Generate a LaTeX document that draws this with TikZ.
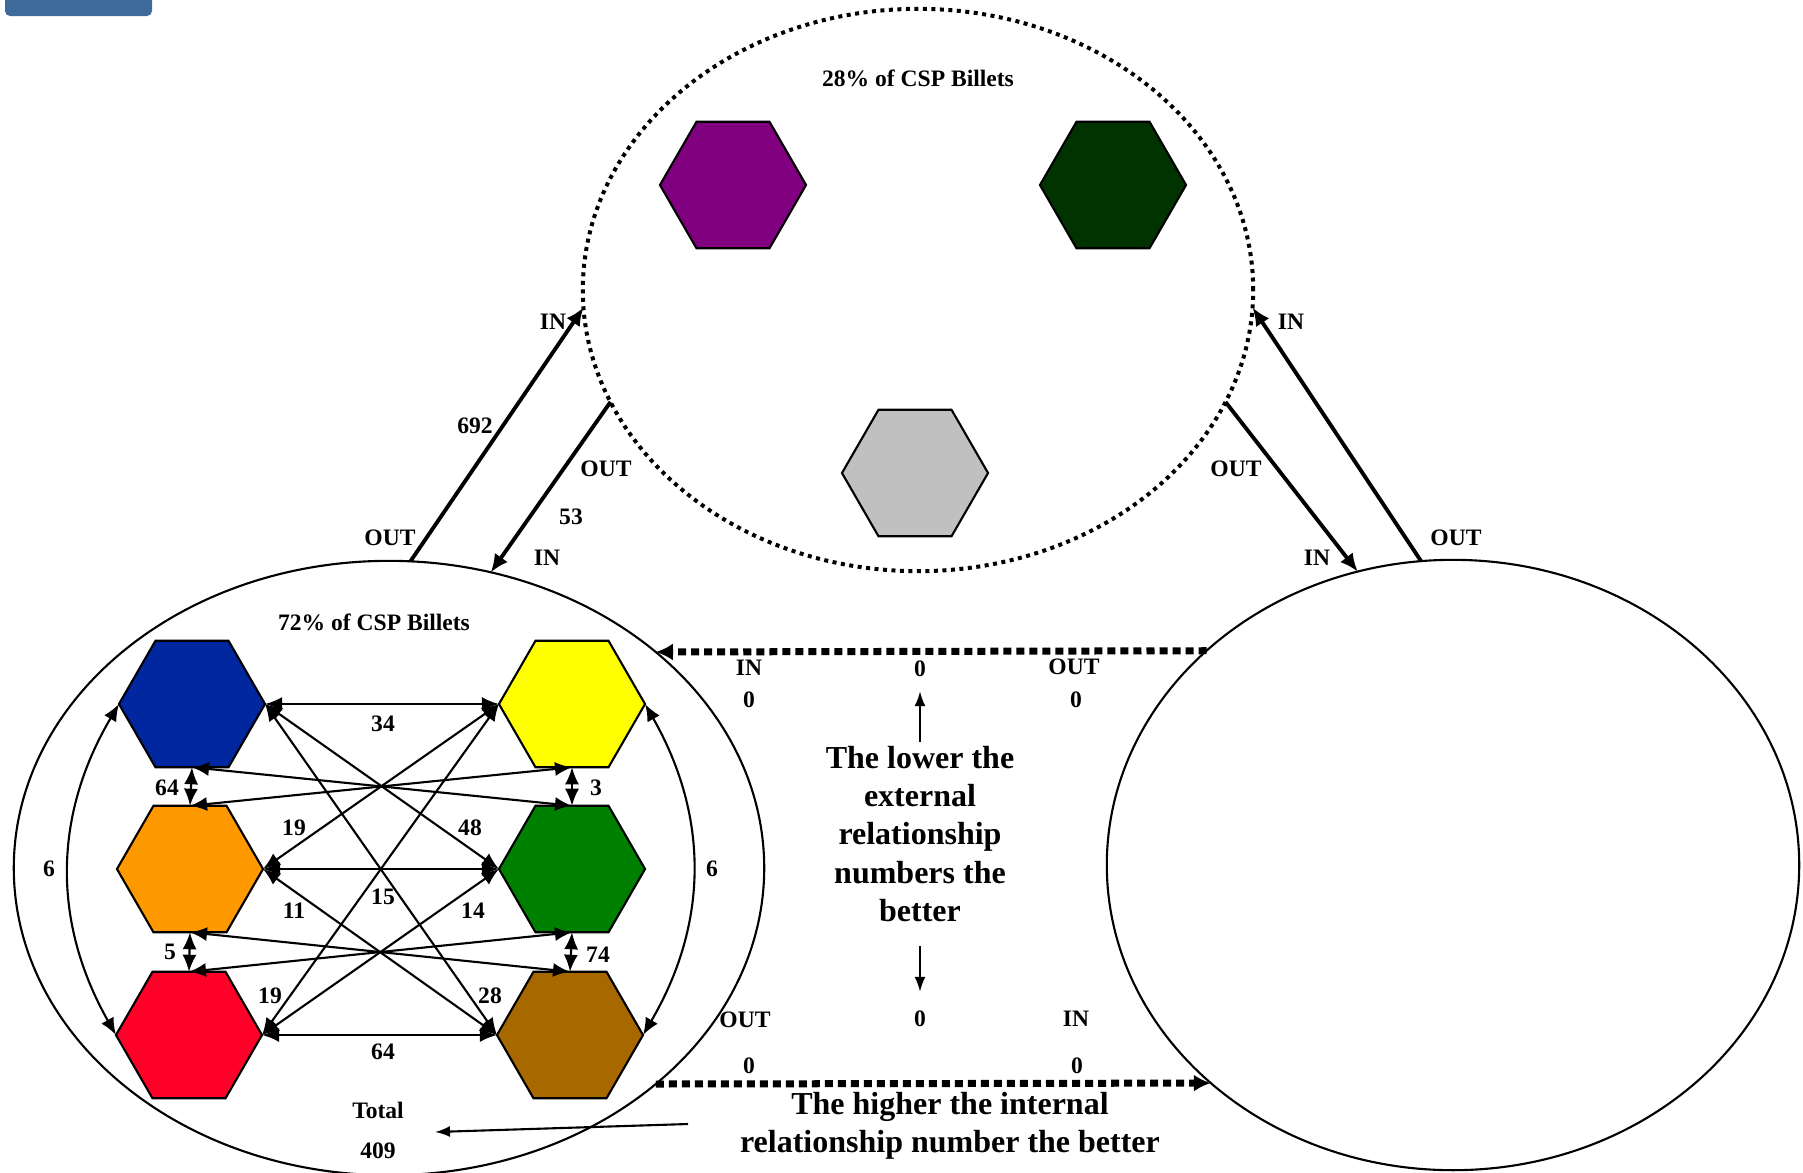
\documentclass[tikz,border=0pt]{standalone}
\usepackage{fontspec}
\setmainfont{Liberation Serif}
\usepackage{xcolor}
\usetikzlibrary{shapes.geometric,arrows.meta}

\definecolor{tabblue}{RGB}{62,106,155}
\definecolor{hexblue}{RGB}{0,38,160}
\definecolor{hexyellow}{RGB}{255,255,0}
\definecolor{hexorange}{RGB}{255,153,0}
\definecolor{hexgreen}{RGB}{0,128,0}
\definecolor{hexred}{RGB}{255,0,40}
\definecolor{hexbrown}{RGB}{168,104,0}
\definecolor{hexpurple}{RGB}{128,0,128}
\definecolor{hexdark}{RGB}{0,51,0}
\definecolor{hexgray}{RGB}{192,192,192}

\tikzset{
    hexa/.style={regular polygon, regular polygon sides=6,
        minimum size=1.46cm, inner sep=0pt, outer sep=0pt, draw, line width=0.6pt},
    group/.style={ellipse, draw, inner sep=0pt, outer sep=0pt, line width=0.6pt},
    dotgroup/.style={group, line width=0.04cm, dash pattern=on 0.04cm off 0.045cm},
    lbl/.style={font=\fontsize{6.7}{8}\selectfont\bfseries, inner sep=1pt},
    big/.style={font=\fontsize{9.1}{10.9}\selectfont\bfseries, align=center, inner sep=1pt},
    rel/.style={{Latex[length=0.17cm,width=0.14cm]}-{Latex[length=0.17cm,width=0.14cm]}, line width=0.6pt},
    ext/.style={-{Latex[length=0.18cm,width=0.16cm]}, line width=1.1pt},
    flow/.style={-{Latex[length=0.17cm,width=0.17cm]}, line width=0.07cm, dash pattern=on 0.08cm off 0.05cm},
    hint/.style={-{Latex[length=0.15cm,width=0.11cm]}, line width=0.6pt},
}

\begin{document}
\begin{tikzpicture}[x=0.01cm, y=-0.01cm]
    \clip (0,0) rectangle (1803,1172);
    \fill[white] (0,0) rectangle (1803,1172);

    % Slide tab
    \fill[tabblue, rounded corners=0.05cm] (5,-20) rectangle (152,16);

    % Groups
    \node[dotgroup, minimum width=6.7cm, minimum height=5.62cm] (top) at (918,290) {};
    \node[group, minimum width=7.5cm, minimum height=6.14cm] (left) at (389,868) {};
    \node[group, minimum width=6.92cm, minimum height=6.1cm] (right) at (1453,865) {};

    \node[lbl] (toptitle) at (918,78) {28\% of CSP Billets};
    \node[lbl] (lefttitle) at (374,622) {72\% of CSP Billets};

    % Top hexagons
    \node[hexa, fill=hexpurple] (purple) at (733,185) {};
    \node[hexa, fill=hexdark] (darkgreen) at (1113,185) {};
    \node[hexa, fill=hexgray] (gray) at (915,473) {};

    % Left hexagons
    \node[hexa, fill=hexblue] (blue) at (192,704) {};
    \node[hexa, fill=hexyellow] (yellow) at (572,704) {};
    \node[hexa, fill=hexorange] (orange) at (190,869) {};
    \node[hexa, fill=hexgreen] (green) at (572,869) {};
    \node[hexa, fill=hexred] (red) at (189,1035) {};
    \node[hexa, fill=hexbrown] (brown) at (570,1035) {};

    % Internal relationships
    \draw[rel] (blue.east) -- (yellow.west);
    \draw[rel] (orange.east) -- (green.west);
    \draw[rel] (red.east) -- (brown.west);
    \draw[rel] (blue.south) -- (orange.north);
    \draw[rel] (orange.south) -- (red.north);
    \draw[rel] (yellow.south) -- (green.north);
    \draw[rel] (green.south) -- (brown.north);
    \draw[rel] (blue.south) -- (green.north);
    \draw[rel] (yellow.south) -- (orange.north);
    \draw[rel] (orange.south) -- (brown.north);
    \draw[rel] (green.south) -- (red.north);
    \draw[rel] (blue.east) -- (green.west);
    \draw[rel] (blue.east) -- (brown.west);
    \draw[rel] (yellow.west) -- (orange.east);
    \draw[rel] (yellow.west) -- (red.east);
    \draw[rel] (orange.east) -- (brown.west);
    \draw[rel] (green.west) -- (red.east);
    \draw[rel] (blue.west) to[bend right=30] (red.west);
    \draw[rel] (yellow.east) to[bend left=30] (brown.east);

    \node[lbl] (n34) at (383,724) {34};
    \node[lbl] (n64a) at (167,788) {64};
    \node[lbl] (n3) at (596,788) {3};
    \node[lbl] (n19a) at (294,828) {19};
    \node[lbl] (n48) at (470,828) {48};
    \node[lbl] (n6a) at (49,869) {6};
    \node[lbl] (n6b) at (712,869) {6};
    \node[lbl] (n15) at (383,897) {15};
    \node[lbl] (n11) at (294,911) {11};
    \node[lbl] (n14) at (473,911) {14};
    \node[lbl] (n5) at (170,952) {5};
    \node[lbl] (n74) at (598,955) {74};
    \node[lbl] (n19b) at (270,996) {19};
    \node[lbl] (n28) at (490,996) {28};
    \node[lbl] (n64b) at (383,1052) {64};

    % External relationships
    \draw[ext] (left.86) -- (top.183);
    \draw[ext] (top.200) -- (left.71);
    \draw[ext] (right.96) -- (top.357);
    \draw[ext] (top.340) -- (right.108);

    \node[lbl] (lout1) at (390,538) {OUT};
    \node[lbl] (l692) at (475,426) {692};
    \node[lbl] (lin1) at (553,322) {IN};
    \node[lbl] (lout2) at (606,469) {OUT};
    \node[lbl] (l53) at (571,517) {53};
    \node[lbl] (lin2) at (547,558) {IN};
    \node[lbl] (rin1) at (1291,322) {IN};
    \node[lbl] (rout1) at (1456,538) {OUT};
    \node[lbl] (rout2) at (1236,469) {OUT};
    \node[lbl] (rin2) at (1317,558) {IN};

    % Between the two lower groups
    \draw[flow] (right.139) -- (left.39);
    \draw[flow] (left.-39) -- (right.222);

    \node[lbl] (uin) at (749,668) {IN};
    \node[lbl] (uinval) at (749,700) {0};
    \node[lbl] (umid) at (920,669) {0};
    \node[lbl] (uout) at (1074,667) {OUT};
    \node[lbl] (uoutval) at (1076,700) {0};
    \node[lbl] (dout) at (745,1020) {OUT};
    \node[lbl] (dmid) at (920,1019) {0};
    \node[lbl] (din) at (1076,1019) {IN};
    \node[lbl] (doutval) at (749,1066) {0};
    \node[lbl] (dinval) at (1077,1066) {0};

    \node[big] (lowtext) at (920,834) {The lower the\\external\\relationship\\numbers the\\better};
    \draw[hint, shorten >=0.1cm] (lowtext) -- (umid);
    \draw[hint, shorten <=0.2cm, shorten >=0.15cm] (lowtext) -- (dmid);

    \node[big] (hightext) at (950,1126) {The higher the internal\\relationship number the better};

    % Total
    \node[lbl] (total) at (378,1110) {Total};
    \node[lbl] (totalval) at (378,1151) {409};
    \coordinate (hightail) at (688,1124);
    \coordinate (totaltip) at (435,1132);
    \draw[hint] (hightail) -- (totaltip);
\end{tikzpicture}
\end{document}
